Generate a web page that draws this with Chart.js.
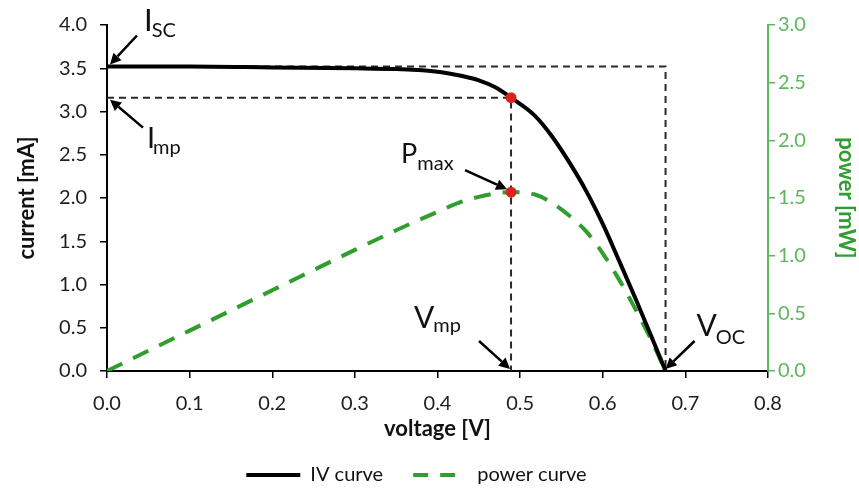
<!DOCTYPE html>
<html><head><meta charset="utf-8">
<script src="https://cdn.jsdelivr.net/npm/chart.js@4/dist/chart.umd.min.js"></script>
<style>html,body{margin:0;padding:0;background:#fff;}</style>
</head><body>
<canvas id="c" width="859" height="491"></canvas>
<script>
// ---- data ----
const voltage = [0, 0.1, 0.2, 0.3, 0.35, 0.4, 0.43, 0.45, 0.47, 0.489, 0.518, 0.538, 0.559, 0.58, 0.6, 0.62, 0.64, 0.658, 0.676];
const current = [3.52, 3.52, 3.51, 3.50, 3.49, 3.46, 3.41, 3.36, 3.28, 3.16, 2.95, 2.72, 2.42, 2.08, 1.70, 1.27, 0.83, 0.42, 0];
const power   = [0, 0.35, 0.70, 1.05, 1.22, 1.38, 1.47, 1.51, 1.54, 1.55, 1.53, 1.46, 1.35, 1.21, 1.02, 0.79, 0.53, 0.28, 0];
const seriesLabels = ['IV curve', 'power curve'];
const isc = 3.52, imp = 3.16, vmp = 0.489, voc = 0.676, pmax = 1.55;
const annotationMain = ['I', 'I', 'P', 'V', 'V'];
const annotationSub  = ['SC', 'mp', 'max', 'mp', 'OC'];

Chart.defaults.font.family = 'Lato, "Open Sans", sans-serif';

const GREEN = '#2f9e2f';
const AXISGREEN = '#5cb85c';

const pts = (xs, ys) => xs.map((v, i) => ({x: v, y: ys[i]}));

// annotation geometry (pixel offsets relative to the referenced data point)
const annotations = [
  {xv: 0,   yv: isc,  axis: 'y',  head: [3, -2],  tail: [30, -31],  text: [37, -36],  size: 31, sub: [-1, 6]},
  {xv: 0,   yv: imp,  axis: 'y',  head: [3, 2],   tail: [36, 30],   text: [40, 50],   size: 29, sub: [-2, 6]},
  {xv: vmp, yv: pmax, axis: 'y1', head: [-4, -3], tail: [-46, -22], text: [-110, -29], size: 27, sub: [0, 7]},
  {xv: vmp, yv: 0,    axis: 'y',  head: [-1, -2], tail: [-32, -30], text: [-97, -43], size: 30, sub: [-1, 4]},
  {xv: voc, yv: 0,    axis: 'y',  head: [0, -2],  tail: [29, -30],  text: [31, -35],  size: 30, sub: [-1, 8]}
];

const annotPlugin = {
  id: 'annot',
  afterDatasetsDraw(chart) {
    const ctx = chart.ctx;
    const xs = chart.scales.x;
    annotations.forEach((a, i) => {
      const px = xs.getPixelForValue(a.xv);
      const py = chart.scales[a.axis].getPixelForValue(a.yv);
      const hx = px + a.head[0], hy = py + a.head[1];
      const tx = px + a.tail[0], ty = py + a.tail[1];
      ctx.save();
      ctx.strokeStyle = '#000'; ctx.fillStyle = '#000'; ctx.lineWidth = 2.5;
      const ang = Math.atan2(hy - ty, hx - tx);
      const L = 11, W = 5.5;
      const bx = hx - L * Math.cos(ang), by = hy - L * Math.sin(ang);
      ctx.beginPath(); ctx.moveTo(tx, ty); ctx.lineTo(bx, by); ctx.stroke();
      ctx.beginPath();
      ctx.moveTo(hx, hy);
      ctx.lineTo(bx + W * Math.sin(ang), by - W * Math.cos(ang));
      ctx.lineTo(bx - W * Math.sin(ang), by + W * Math.cos(ang));
      ctx.closePath(); ctx.fill();
      ctx.textAlign = 'left'; ctx.textBaseline = 'alphabetic';
      ctx.fillStyle = '#111';
      ctx.font = a.size + 'px Lato';
      const mx = px + a.text[0], my = py + a.text[1];
      ctx.fillText(annotationMain[i], mx, my);
      const w = ctx.measureText(annotationMain[i]).width;
      ctx.font = '20px Lato';
      ctx.fillText(annotationSub[i], mx + w + a.sub[0], my + a.sub[1]);
      ctx.restore();
    });
  }
};

const tickFmt = v => Number(v).toFixed(1);

new Chart(document.getElementById('c'), {
  type: 'line',
  data: {
    datasets: [
      {label: 'Imp point', data: [{x: vmp, y: imp}], yAxisID: 'y', showLine: false,
       pointRadius: 5.5, pointBackgroundColor: '#d8231f', pointBorderColor: '#d8231f', pointBorderWidth: 0},
      {label: 'Pmax point', data: [{x: vmp, y: pmax}], yAxisID: 'y1', showLine: false,
       pointRadius: 5.5, pointBackgroundColor: '#d8231f', pointBorderColor: '#d8231f', pointBorderWidth: 0},
      {label: seriesLabels[0], data: pts(voltage, current), yAxisID: 'y',
       borderColor: '#000', backgroundColor: '#000', borderWidth: 4, pointRadius: 0,
       cubicInterpolationMode: 'monotone', fill: false},
      {label: seriesLabels[1], data: pts(voltage, power), yAxisID: 'y1',
       borderColor: GREEN, backgroundColor: GREEN, borderWidth: 4, borderDash: [17, 12], pointRadius: 0,
       cubicInterpolationMode: 'monotone', fill: false},
      {label: 'Isc guide', data: [{x: 0, y: isc}, {x: voc, y: isc}, {x: voc, y: 0}], yAxisID: 'y',
       borderColor: '#2a2a2a', borderWidth: 2, borderDash: [7, 5], pointRadius: 0, tension: 0},
      {label: 'Imp guide', data: [{x: 0, y: imp}, {x: vmp, y: imp}, {x: vmp, y: 0}], yAxisID: 'y',
       borderColor: '#2a2a2a', borderWidth: 2, borderDash: [7, 5], pointRadius: 0, tension: 0}
    ]
  },
  options: {
    responsive: false,
    animation: false,
    devicePixelRatio: 1,
    layout: {padding: {top: 22, left: 0, right: 26, bottom: -4}},
    plugins: {
      tooltip: {enabled: false},
      legend: {
        position: 'bottom',
        labels: {
          filter: item => seriesLabels.includes(item.text),
          generateLabels: chart => {
            const items = Chart.defaults.plugins.legend.labels.generateLabels(chart);
            items.forEach(it => {
              const ds = chart.data.datasets[it.datasetIndex];
              it.strokeStyle = ds.borderColor;
              it.lineWidth = ds.borderWidth;
              it.lineDash = ds.borderDash ? [15, 12] : [];
              it.pointStyle = 'line';
            });
            return items;
          },
          usePointStyle: true, pointStyle: 'line', pointStyleWidth: 54,
          font: {size: 20}, color: '#111', padding: 30
        }
      }
    },
    scales: {
      x: {
        type: 'linear', min: 0, max: 0.8,
        ticks: {stepSize: 0.1, callback: tickFmt, font: {size: 20}, color: '#1e1e1e', padding: 14},
        grid: {drawOnChartArea: false, drawTicks: true, tickLength: 7, color: '#000', lineWidth: 1.5},
        border: {color: '#000', width: 2},
        title: {display: true, text: 'voltage [V]', font: {size: 22, weight: 'bold'}, color: '#111', padding: {top: 0, bottom: -7}},
        afterFit: s => { s.height = 64; }
      },
      y: {
        position: 'left', min: 0, max: 4,
        ticks: {stepSize: 0.5, callback: tickFmt, font: {size: 20}, color: '#1e1e1e', padding: 13},
        grid: {drawOnChartArea: false, drawTicks: true, tickLength: 7, color: '#000', lineWidth: 1.5},
        border: {color: '#000', width: 2},
        title: {display: true, text: 'current [mA]', font: {size: 22, weight: 'bold'}, color: '#111', padding: {top: 14, bottom: 0}},
        afterFit: s => { s.width = 107; }
      },
      y1: {
        position: 'right', min: 0, max: 3,
        ticks: {stepSize: 0.5, callback: tickFmt, font: {size: 20}, color: AXISGREEN, padding: 3},
        grid: {drawOnChartArea: false, drawTicks: true, tickLength: 7, color: AXISGREEN, lineWidth: 1.5},
        border: {color: AXISGREEN, width: 2},
        title: {display: true, text: 'power [mW]', font: {size: 22, weight: 'bold'}, color: GREEN, padding: {top: -26, bottom: 0}},
        afterFit: s => { s.width = 65; }
      }
    }
  },
  plugins: [annotPlugin]
});
</script>
</body></html>
